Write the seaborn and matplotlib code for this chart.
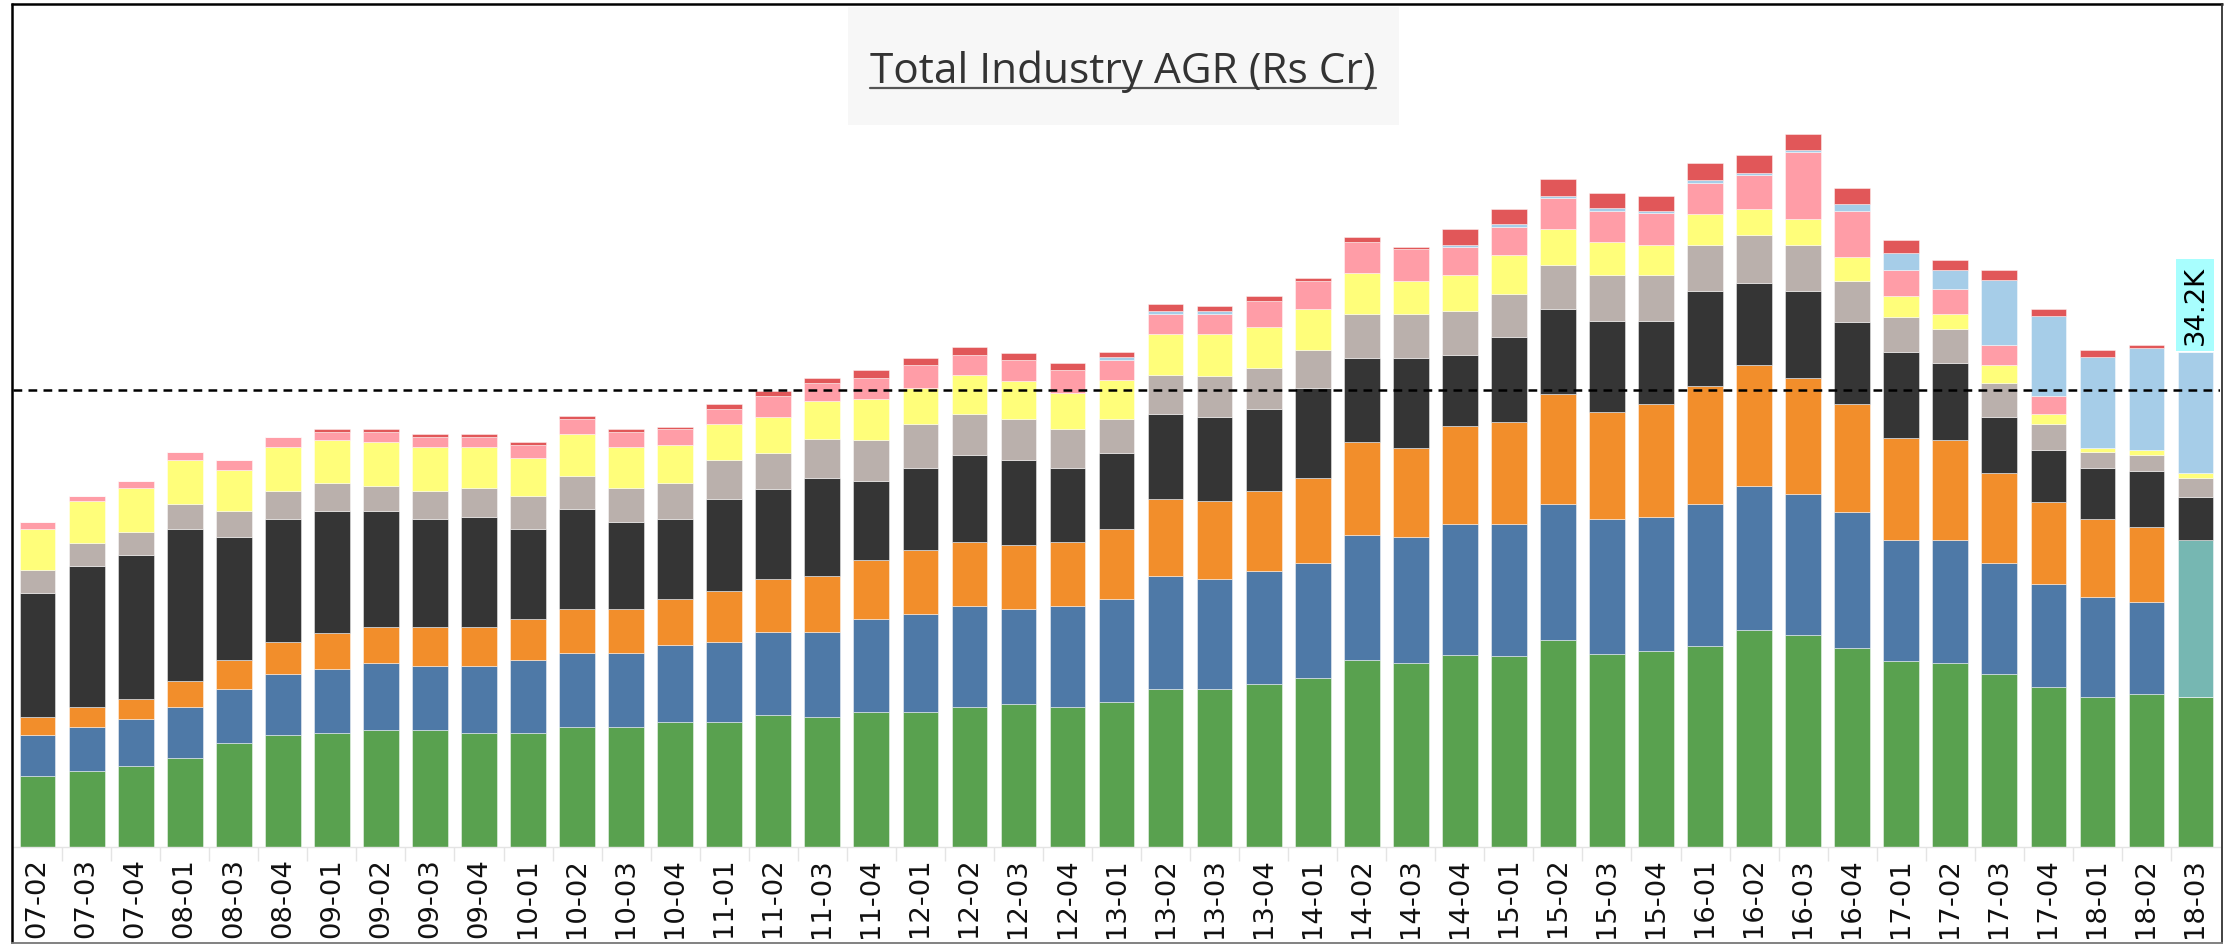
import matplotlib
matplotlib.use("Agg")
import matplotlib.pyplot as plt
from matplotlib.lines import Line2D
from matplotlib.patches import Rectangle
import numpy as np
import pandas as pd
import seaborn as sns

# ---------------- data (Rs Cr) ----------------
quarters = ['07-02', '07-03', '07-04', '08-01', '08-03', '08-04', '09-01', '09-02', '09-03',
            '09-04', '10-01', '10-02', '10-03', '10-04', '11-01', '11-02', '11-03', '11-04',
            '12-01', '12-02', '12-03', '12-04', '13-01', '13-02', '13-03', '13-04', '14-01',
            '14-02', '14-03', '14-04', '15-01', '15-02', '15-03', '15-04', '16-01', '16-02',
            '16-03', '16-04', '17-01', '17-02', '17-03', '17-04', '18-01', '18-02', '18-03']

seg_green = [4890, 5240, 5590, 6120, 7180, 7710, 7890, 8080, 8080, 7890, 7890, 8260, 8260, 8610,
             8610, 9140, 8960, 9310, 9310, 9670, 9840, 9670, 10020, 10900, 10900, 11250, 11640,
             12900, 12700, 13250, 13220, 14270, 13360, 13560, 13910, 14970, 14620, 13750, 12850,
             12690, 11980, 11080, 10370, 10530, 10370]
seg_blue = [2840, 3020, 3210, 3550, 3740, 4270, 4430, 4620, 4430, 4620, 4990, 5150, 5150, 5330,
            5520, 5710, 5890, 6420, 6770, 6950, 6600, 6950, 7120, 7830, 7650, 7830, 8000, 8690,
            8720, 9060, 9070, 9430, 9310, 9240, 9790, 9980, 9790, 9400, 8370, 8530, 7630, 7120,
            6920, 6410, 0]
seg_orange = [1250, 1430, 1410, 1780, 1960, 2150, 2490, 2490, 2680, 2680, 2840, 3020, 3020, 3210,
              3550, 3700, 3880, 4080, 4430, 4460, 4430, 4460, 4810, 5340, 5340, 5510, 5840, 6390,
              6190, 6770, 7090, 7630, 7410, 7830, 8180, 8340, 7990, 7470, 7080, 6920, 6220, 5670,
              5350, 5150, 0]
seg_teal = [0] * 44 + [10850]
seg_dark = [8540, 9760, 9970, 10500, 8540, 8520, 8380, 8010, 7460, 7640, 6230, 6920, 6050, 5490,
            6390, 6190, 6770, 5510, 5690, 6020, 5860, 5130, 5310, 5860, 5860, 5690, 6230, 5850,
            6220, 4960, 5880, 5890, 6250, 5700, 6570, 5700, 6050, 5700, 5890, 5350, 3900, 3570,
            3570, 3930, 3000]
seg_gray = [1590, 1590, 1590, 1780, 1780, 1960, 1940, 1780, 1960, 1960, 2310, 2310, 2310, 2490,
            2680, 2520, 2670, 2840, 3020, 2840, 2840, 2670, 2320, 2670, 2840, 2840, 2680, 3040,
            3040, 3010, 2990, 3000, 3190, 3190, 3190, 3350, 3190, 2830, 2480, 2290, 2320, 1770,
            1060, 1060, 1290]
seg_yellow = [2840, 2860, 3020, 3020, 2840, 3020, 3020, 3020, 3020, 2840, 2650, 2860, 2840, 2680,
              2490, 2490, 2640, 2840, 2490, 2670, 2670, 2490, 2670, 2840, 2840, 2840, 2810, 2810,
              2290, 2490, 2670, 2480, 2320, 2130, 2130, 1770, 1770, 1610, 1420, 1060, 1260, 710,
              320, 350, 320]
seg_pink = [530, 350, 530, 530, 720, 720, 530, 690, 720, 720, 900, 1060, 1060, 1060, 1060, 1430,
            1260, 1410, 1590, 1410, 1410, 1590, 1410, 1430, 1430, 1760, 1960, 2180, 2150, 1950,
            1970, 2160, 2160, 2160, 2160, 2320, 4640, 3190, 1770, 1770, 1420, 1260, 0, 0, 0]
seg_lightblue = [0] * 22 + [180, 180, 180, 0, 0, 0, 0, 140, 150, 160, 160, 130, 160, 160, 160,
                            520, 1220, 1260, 4440, 5510, 6250, 7080, 8370]
seg_red = [0] * 6 + [180, 180, 180, 180, 180, 180, 180, 180, 350, 350, 350, 530, 530, 530, 530,
                     530, 350, 500, 350, 380, 180, 340, 170, 1090, 1080, 1190, 1030, 1100, 1220,
                     1260, 1060, 1060, 900, 710, 710, 520, 520, 190, 0]

REF_LINE = 31590

series = {
    "green": seg_green, "blue": seg_blue, "orange": seg_orange, "teal": seg_teal,
    "dark": seg_dark, "gray": seg_gray, "yellow": seg_yellow, "pink": seg_pink,
    "lightblue": seg_lightblue, "red": seg_red,
}
palette = {
    "green": "#59A14F", "blue": "#4E79A7", "orange": "#F28E2B", "teal": "#76B7B2",
    "dark": "#353535", "gray": "#BAB0AC", "yellow": "#FFFE7A", "pink": "#FF9DA7",
    "lightblue": "#A6CDE8", "red": "#E15759",
}
# seaborn stacks the last hue level at the bottom
stack_bottom_to_top = list(series.keys())
hue_order = stack_bottom_to_top[::-1]

rows = []
for name, vals in series.items():
    for i, v in enumerate(vals):
        if v > 0:
            rows.append({"idx": i, "series": name, "value": v})
df = pd.DataFrame(rows)

# ---------------- figure ----------------
W, H = 2236, 944
sns.set_style("white")
plt.rcParams["font.family"] = ["DejaVu Sans"]

fig = plt.figure(figsize=(W / 100, H / 100), dpi=100)
ax_left, ax_right = 13.1, 2220.0
ax_bottom, ax_top = 846.7, 4.0
ax = fig.add_axes([ax_left / W, 1 - ax_bottom / H, (ax_right - ax_left) / W,
                   (ax_bottom - ax_top) / H])
ax.set_facecolor("white")

sns.histplot(data=df, x="idx", weights="value", hue="series", hue_order=hue_order,
             palette=palette, multiple="stack", discrete=True, shrink=0.728,
             element="bars", fill=True, alpha=1, linewidth=0.7,
             edgecolor=(1, 1, 1, 0.45), legend=False, ax=ax)

px_per_val = 456.7 / REF_LINE
ax.set_xlim(-0.5, len(quarters) - 0.5)
ax.set_ylim(0, (ax_bottom - ax_top) / px_per_val)

ax.axhline(REF_LINE, color="black", lw=1.8, ls=(0, (3.5, 2.5)), zorder=5)

ax.set_xticks(range(len(quarters)))
ax.set_xticklabels(quarters, rotation=90, fontsize=19.7, color="#111111")
ax.set_xticks(np.arange(len(quarters) - 1) + 0.5, minor=True)
ax.tick_params(axis="x", which="major", length=0, pad=8)
ax.tick_params(axis="x", which="minor", length=10, width=1, color="#e4e4e4", direction="out",
               bottom=True)
ax.set_yticks([])
ax.set_xlabel("")
ax.set_ylabel("")
for s in ["top", "right", "left"]:
    ax.spines[s].set_visible(False)
ax.spines["bottom"].set_color("#e4e4e4")
ax.spines["bottom"].set_linewidth(1)

# total label on the last bar
total_last = sum(v[-1] for v in series.values())
ax.annotate(f"{total_last / 1000:.1f}K", xy=(len(quarters) - 1, total_last),
            xytext=(0, 5.5), textcoords="offset points", rotation=90,
            ha="center", va="bottom", fontsize=19.7, color="black",
            bbox=dict(boxstyle="square,pad=0.22", facecolor="#A8FEFE", edgecolor="none"),
            zorder=6)

# title box
fig.add_artist(Rectangle((848 / W, 1 - 125 / H), (1399 - 848) / W, (125 - 7) / H,
                         transform=fig.transFigure, facecolor="#F7F7F7", edgecolor="none",
                         zorder=2))
title = fig.text(1123 / W, 1 - 83 / H, "Total Industry AGR (Rs Cr)", ha="center",
                 va="baseline", fontsize=28, color="#333333", family=["Open Sans", "DejaVu Sans"],
                 zorder=3)
fig.canvas.draw()
r = fig.canvas.get_renderer()
bb = title.get_window_extent(r)
title.set_fontsize(28 * 505 / bb.width)
fig.canvas.draw()
bb = title.get_window_extent(r)
uy = 1 - 87.5 / H
fig.add_artist(Line2D([bb.x0 / W, bb.x1 / W], [uy, uy], transform=fig.transFigure,
                      color="#555555", lw=1.6, zorder=3))

# outer frame
def fline(x0, y0, x1, y1, c, lw):
    fig.add_artist(Line2D([x0 / W, x1 / W], [1 - y0 / H, 1 - y1 / H],
                          transform=fig.transFigure, color=c, lw=lw, zorder=10,
                          solid_capstyle="butt"))

fline(10.5, 4, 2222.5, 4, "black", 1.8)
fline(11.5, 3, 11.5, 943, "black", 1.8)
fline(2221.8, 3, 2221.8, 943, "#333333", 1.3)
fline(10.5, 942.5, 2222.5, 942.5, "#777777", 1.3)

fig.savefig("out.png", dpi=100, facecolor="white")
